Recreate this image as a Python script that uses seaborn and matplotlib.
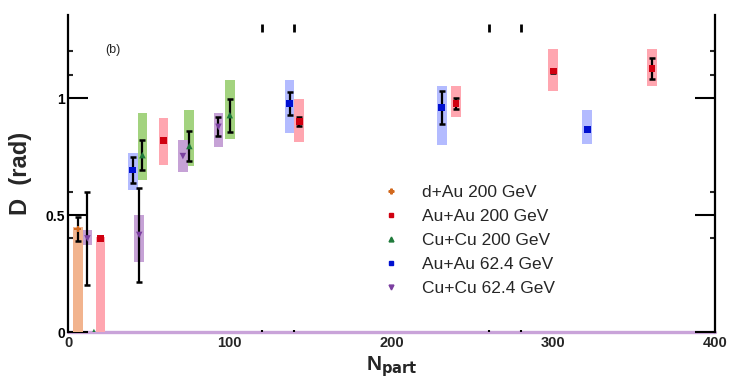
import numpy as np
import pandas as pd
import seaborn as sns
import matplotlib.pyplot as plt
import matplotlib.transforms as mtransforms
from matplotlib.lines import Line2D

# ---- data: D (rad) versus N_part, point value, statistical error, systematic band ----
systems = ["d+Au 200 GeV", "Au+Au 200 GeV", "Cu+Cu 200 GeV", "Au+Au 62.4 GeV", "Cu+Cu 62.4 GeV"]

dau_npart = [6]
dau_d = [0.44]
dau_stat = [0.05]
dau_sys_lo = [0.0]
dau_sys_hi = [0.45]

auau200_npart = [20, 59, 143, 240, 300, 361]
auau200_d = [0.40, 0.818, 0.899, 0.977, 1.115, 1.127]
auau200_stat = [0.0, 0.0, 0.02, 0.022, 0.01, 0.045]
auau200_sys_lo = [0.0, 0.714, 0.813, 0.917, 1.031, 1.051]
auau200_sys_hi = [0.405, 0.914, 0.996, 1.05, 1.208, 1.208]

cucu200_npart = [16, 46, 75, 100]
cucu200_d = [0.0, 0.756, 0.795, 0.927]
cucu200_stat = [0.0, 0.065, 0.065, 0.07]
cucu200_sys_lo = [0.0, 0.65, 0.709, 0.823]
cucu200_sys_hi = [0.0, 0.935, 0.949, 1.077]

auau62_npart = [40, 137, 231, 321]
auau62_d = [0.692, 0.977, 0.96, 0.866]
auau62_stat = [0.055, 0.05, 0.07, 0.0]
auau62_sys_lo = [0.607, 0.85, 0.80, 0.803]
auau62_sys_hi = [0.765, 1.077, 1.05, 0.949]

cucu62_npart = [12, 44, 71, 93]
cucu62_d = [0.40, 0.415, 0.752, 0.877]
cucu62_stat = [0.2, 0.2, 0.0, 0.04]
cucu62_sys_lo = [0.372, 0.30, 0.684, 0.79]
cucu62_sys_hi = [0.436, 0.50, 0.82, 0.937]

x_ticks = [0, 100, 200, 300, 400]
x_minor = [120, 140, 260, 280]
y_ticks = [0, 0.5, 1]
y_tick_labels = ["0", "0.5", "1"]
y_minor = [0.4, 0.6, 1.1, 1.2]

marker_colors = ["#d2691e", "#d00010", "#1f7a3a", "#0010d0", "#7b3fa0"]
band_colors = ["#f2b48e", "#ffa6b0", "#a3d37f", "#b3bbff", "#c6a2d6"]
markers = ["P", "s", "^", "s", "v"]

series = [
    (dau_npart, dau_d, dau_stat, dau_sys_lo, dau_sys_hi),
    (auau200_npart, auau200_d, auau200_stat, auau200_sys_lo, auau200_sys_hi),
    (cucu200_npart, cucu200_d, cucu200_stat, cucu200_sys_lo, cucu200_sys_hi),
    (auau62_npart, auau62_d, auau62_stat, auau62_sys_lo, auau62_sys_hi),
    (cucu62_npart, cucu62_d, cucu62_stat, cucu62_sys_lo, cucu62_sys_hi),
]

rows = []
for name, (n, d, s, lo, hi) in zip(systems, series):
    for i in range(len(n)):
        rows.append(dict(system=name, npart=n[i], D=d[i], stat=s[i], lo=lo[i], hi=hi[i]))
df = pd.DataFrame(rows)

sns.set_theme(style="white")
plt.rcParams["font.family"] = ["Liberation Sans", "DejaVu Sans"]

fig = plt.figure(figsize=(7.3, 3.8), dpi=100)
ax = fig.add_axes([0.0932, 0.1263, 0.8863, 0.8342])

# systematic bands
for name, bc in zip(systems, band_colors):
    sub = df[df.system == name]
    ax.bar(sub.npart, sub.hi - sub.lo, bottom=sub.lo, width=6.0, color=bc,
           edgecolor="none", zorder=1)

# statistical error bars
for name in systems:
    sub = df[(df.system == name) & (df.stat > 0)]
    ax.errorbar(sub.npart, sub.D, yerr=sub.stat, fmt="none", ecolor="black",
                elinewidth=1.6, capsize=2.0, capthick=1.8, zorder=2)

# points
sns.scatterplot(data=df, x="npart", y="D", hue="system", style="system",
                hue_order=systems, style_order=systems,
                palette=dict(zip(systems, marker_colors)),
                markers=dict(zip(systems, markers)),
                s=22, linewidth=0, legend=False, zorder=3, ax=ax)

ax.set_xlim(0, 400)
ax.set_ylim(0, 1.355)

# frame: black sides, lavender baseline
for side in ["left", "right"]:
    ax.spines[side].set_color("black")
    ax.spines[side].set_linewidth(1.6)
ax.spines["top"].set_visible(False)
ax.spines["bottom"].set_visible(False)
ax.axhline(0, color="#c9a3d9", linewidth=2.4, zorder=0.5, clip_on=False)

ax.set_yticks(y_ticks)
ax.set_yticklabels(y_tick_labels)
ax.set_yticks(y_minor, minor=True)
ax.tick_params(axis="y", which="major", direction="in", length=14.5, width=1.5,
               left=True, right=True, labelsize=10, pad=2, colors="black")
ax.tick_params(axis="y", which="minor", direction="in", length=3.6, width=1.5,
               left=True, right=True)
ax.set_xticks(x_ticks)
ax.set_xticks(x_minor, minor=True)
ax.tick_params(axis="x", which="major", length=0, labelsize=10.5, pad=3)
ax.tick_params(axis="x", which="minor", direction="in", length=1.5, width=1.5,
               bottom=True, color="black")
for lab in ax.get_xticklabels() + ax.get_yticklabels():
    lab.set_fontweight("bold")

# short marks along the top edge
trans = mtransforms.blended_transform_factory(ax.transData, ax.transAxes)
ax.plot(x_minor, [0.96] * len(x_minor), linestyle="none", marker="|",
        markersize=6, markeredgewidth=2.0, color="black", transform=trans,
        clip_on=False)

ax.set_xlabel("N$_{\\mathbf{part}}$", fontsize=15, fontweight="bold", labelpad=3)
ax.set_ylabel("D  (rad)", fontsize=17, fontweight="bold", labelpad=10)

ax.text(0.057, 0.88, "(b)", transform=ax.transAxes, fontsize=9)

handles = [Line2D([], [], linestyle="none", marker=m, color=c, markersize=3.5)
           for m, c in zip(markers, marker_colors)]
ax.legend(handles, systems, loc="upper left", bbox_to_anchor=(0.475, 0.485),
          frameon=False, fontsize=12.5, labelspacing=0.5, handlelength=1.0,
          handletextpad=1.3, borderaxespad=0)

fig.savefig("out.png", dpi=100)
